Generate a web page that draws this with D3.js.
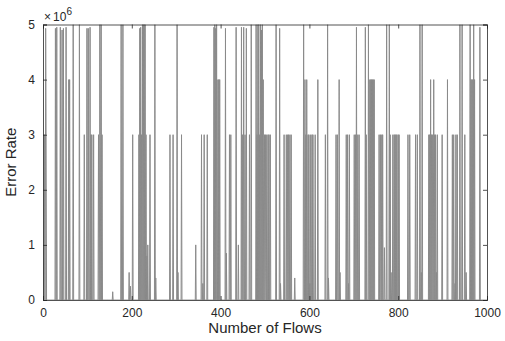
<!DOCTYPE html>
<html><head><meta charset="utf-8">
<script src="https://cdn.jsdelivr.net/npm/d3@7"></script>
<style>body{margin:0;background:#fff;}svg{display:block;font-family:"Liberation Sans",Arial,sans-serif;}</style>
</head><body><svg id="c" width="505" height="341"></svg>
<script>
// Data: non-zero readings (flow index, error rate in units of 1e6); all other flows read as 0
const spikeFlows = [3,6,7,28,31,39,43,46,52,58,60,68,82,93,99,102,106,108,110,114,125,128,129,131,133,157,176,180,194,197,202,216,218,220,222,224,226,228,230,232,234,236,241,252,254,286,293,302,304,312,344,357,360,363,370,385,387,389,391,394,396,398,411,413,420,423,435,440,447,449,452,455,458,465,469,480,482,484,486,488,490,492,494,496,499,501,502,504,507,509,512,525,533,535,543,548,551,553,556,559,567,587,590,592,594,597,599,601,603,606,608,613,619,636,641,643,660,663,667,669,683,686,688,690,701,704,706,709,712,726,728,733,736,738,740,742,744,746,757,760,763,765,769,774,780,782,784,788,791,793,795,797,800,802,822,826,839,843,849,852,854,869,871,873,875,877,880,882,884,886,888,899,911,922,925,928,930,933,939,944,950,953,962,964,966,968,970,972,984];
const spikeRates = [3.0,4.93,3.0,4.93,4.95,4.95,4.9,4.93,4.95,4.0,4.0,5.0,5.0,3.0,4.93,4.93,4.95,3.0,3.0,3.0,3.0,5.0,3.0,5.0,3.0,0.15,5.0,5.0,0.5,0.25,3.0,3.0,4.93,4.95,3.0,5.0,5.0,5.0,5.0,3.0,0.8,1.0,3.0,5.0,0.4,3.0,3.0,5.0,0.5,3.0,1.0,3.0,0.3,3.0,3.0,4.95,5.0,4.93,5.0,4.0,4.0,4.0,4.93,0.85,3.0,3.0,4.95,1.0,4.95,3.0,4.95,3.0,4.93,3.0,5.0,5.0,3.0,5.0,5.0,3.0,5.0,4.9,5.0,4.0,3.0,3.0,0.5,3.0,3.0,3.0,3.0,5.0,4.93,0.3,3.0,3.0,3.0,3.0,3.0,3.0,0.4,5.0,4.0,3.0,4.0,3.0,3.0,0.3,3.0,3.0,3.0,3.0,4.0,3.0,5.0,0.4,3.0,3.0,4.0,0.5,3.0,3.0,0.3,3.0,3.0,3.0,4.95,3.0,3.0,4.95,3.0,5.0,4.0,4.0,4.0,4.0,4.0,4.0,3.0,3.0,3.0,3.0,0.95,5.0,5.0,3.0,0.5,3.0,3.0,3.0,3.0,3.0,3.0,3.0,3.0,3.0,3.0,3.0,5.0,0.5,5.0,3.0,3.0,4.0,3.0,3.0,4.0,3.0,3.0,0.5,3.0,3.0,4.0,3.0,3.0,0.3,3.0,3.0,5.0,5.0,3.0,0.5,5.0,4.0,4.0,4.0,5.0,4.0,4.95];
const baselineRate = 0;
const flowCount = 1000;
const xTicks = [0,200,400,600,800,1000];
const yTicks = [0,1,2,3,4,5];

const series = d3.range(0, flowCount + 1).map(f => ({flow: f, rate: baselineRate}));
spikeFlows.forEach((f, i) => { series[f].rate = spikeRates[i]; });

const svg = d3.select("#c");
const L = 43, R = 487, T = 24.5, B = 300;
const x = d3.scaleLinear().domain([0, 1000]).range([L, R]);
const y = d3.scaleLinear().domain([0, 5]).range([B, T]);
const axisCol = "#262626";

svg.append("defs").append("clipPath").attr("id","clip")
  .append("rect").attr("x", L).attr("y", T).attr("width", R - L).attr("height", B - T);

svg.append("path").datum(series)
  .attr("clip-path","url(#clip)")
  .attr("fill","none").attr("stroke","#8a8a8a").attr("stroke-width",1)
  .attr("d", d3.line().x(d => x(d.flow)).y(d => y(d.rate)));

// axes (box style, inward ticks)
const fs = "12px";
const gB = svg.append("g").attr("transform",`translate(0,${B})`)
  .call(d3.axisBottom(x).tickValues(xTicks).tickSize(-4).tickPadding(8).tickFormat(d3.format("d")));
const gT = svg.append("g").attr("transform",`translate(0,${T})`)
  .call(d3.axisTop(x).tickValues(xTicks).tickSize(-4).tickFormat(""));
const gL = svg.append("g").attr("transform",`translate(${L},0)`)
  .call(d3.axisLeft(y).tickValues(yTicks).tickSize(-4).tickPadding(8).tickFormat(d3.format("d")));
const gR = svg.append("g").attr("transform",`translate(${R},0)`)
  .call(d3.axisRight(y).tickValues(yTicks).tickSize(-4).tickFormat(""));
[gB,gT,gL,gR].forEach(g => {
  g.select(".domain").attr("stroke", axisCol).attr("stroke-width", 0.8);
  g.selectAll(".tick line").attr("stroke", axisCol).attr("stroke-width", 0.8);
  g.selectAll("text").attr("fill", axisCol).style("font-size", fs).style("font-family","Liberation Sans, Arial, sans-serif");
});

// exponent
const ex = svg.append("text").attr("x", L + 1).attr("y", T - 4).attr("fill", axisCol)
  .style("font-size", "12px");
ex.append("tspan").text("\u00d7");
ex.append("tspan").attr("dx", 2).text("10");
ex.append("tspan").attr("dy", -6).style("font-size","10px").text("6");

svg.append("text").attr("x", (L + R) / 2).attr("y", 333).attr("text-anchor","middle")
  .attr("fill", axisCol).style("font-size","15px").text("Number of Flows");
svg.append("text").attr("transform",`translate(16,${(T + B) / 2}) rotate(-90)`).attr("text-anchor","middle")
  .attr("fill", axisCol).style("font-size","15px").text("Error Rate");
</script></body></html>
